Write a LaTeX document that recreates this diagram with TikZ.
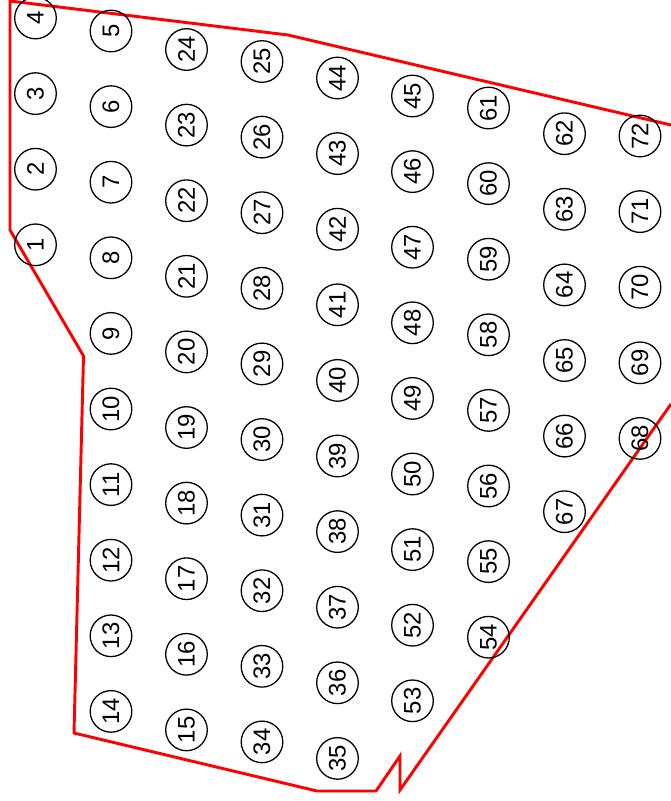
\documentclass[tikz,border=0pt]{standalone}
\usepackage{fontspec}
\setmainfont{Liberation Sans}

\tikzset{
  well/.style={circle, draw, line width=1.1pt, minimum size=1.248cm, inner sep=0pt,
    rotate=90, font=\fontsize{20.4}{24}\selectfont},
  boundary/.style={red, line width=2.5pt, line join=miter}
}

\begin{document}
\begin{tikzpicture}[x=0.03cm, y=-0.03cm]
  \useasboundingbox (0,0) rectangle (671,801);
  \clip (0,0) rectangle (671,801);
  % site boundary
  \draw[boundary] (671,125) -- (288,35) -- (10,1) -- (10,230) -- (83.5,356)
    -- (74,733) -- (317,791) -- (376,791) -- (400,756) -- (400,790) -- (671,404);
  % wells, one column at a time: x, top y, first and last number
  \foreach \x/\y/\first/\last in {35.5/18/4/1, 111/31/5/14, 186.5/49.5/24/15,
      262/61.5/25/34, 337.5/78/44/35, 412.5/96/45/53, 488.5/108/61/54,
      564.5/133.7/62/67, 640/136/72/68}
    \foreach \n [count=\i from 0] in {\first,...,\last}
      \node[well] (w\n) at (\x,\y+\i*75.6) {\n};
\end{tikzpicture}
\end{document}
